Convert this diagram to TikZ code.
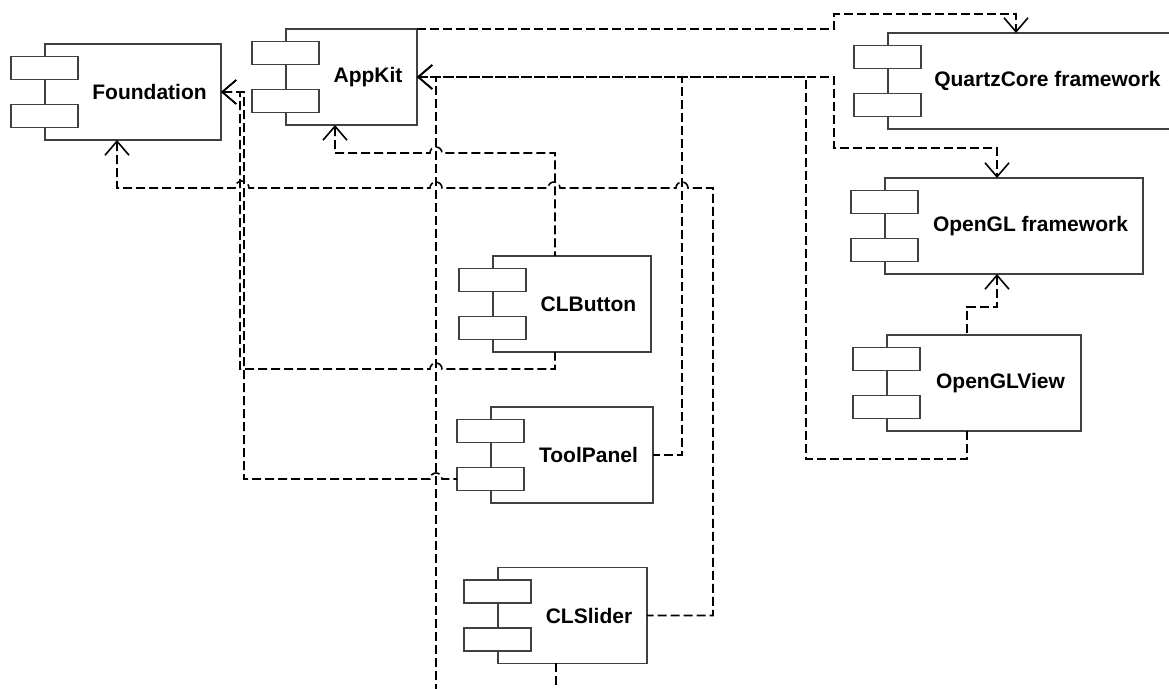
\documentclass[tikz,border=0pt]{standalone}
\usepackage{fontspec}
\setmainfont{Liberation Sans}
\usetikzlibrary{arrows.meta,calc}
\definecolor{compInk}{HTML}{000000}
\definecolor{compEdge}{HTML}{404040}
\definecolor{compDash}{HTML}{000000}
\tikzset{
  every picture/.style={font=\fontsize{10.5}{12}\selectfont\bfseries, text=compInk},
  comp box/.style={draw=compEdge, line width=0.6pt, fill=white,
    minimum height=48pt, inner sep=0pt, outer sep=0pt},
  comp part/.style={draw=compEdge, line width=0.6pt, fill=white},
  comp text/.style={inner sep=0pt, anchor=center},
  comp dep/.style={draw=compDash, line width=0.8pt, dash pattern=on 4.5pt off 2pt},
  comp tip/.style={-{Straight Barb[length=7pt,width=12pt]}},
  comp back/.style={{Straight Barb[length=7pt,width=12pt]}-}
}
\newcommand{\compnode}[4]{%
  \node[comp box, minimum width=#3] (#1) at #2 {};
  \draw[comp part] ($(#1.west)+(-34,-35.5)$) rectangle ++(67,23);
  \draw[comp part] ($(#1.west)+(-34,12.5)$) rectangle ++(67,23);
  \node[comp text] (#1-text) at ($(#1.center)+(16.5,0)$) {#4};
}

\begin{document}
\begin{tikzpicture}[x=0.5pt,y=-0.5pt]
  \useasboundingbox (0,0) rectangle (1169,689);
  \clip (0,0) rectangle (1169,689);
  \compnode{found}{(133,92)}{88pt}{Foundation}
  \compnode{appkit}{(351.5,77)}{65.5pt}{AppKit}
  \compnode{quartz}{(1031,81)}{143pt}{QuartzCore framework}
  \compnode{opengl}{(1014,226)}{129pt}{OpenGL framework}
  \compnode{glview}{(984,383)}{97pt}{OpenGLView}
  \compnode{clbutton}{(572,304)}{79pt}{CLButton}
  \compnode{toolpanel}{(572,455)}{81pt}{ToolPanel}
  \compnode{clslider}{(572.5,615.5)}{74.5pt}{CLSlider}
  \coordinate (below1) at (436,720);
  \coordinate (below2) at ($(clslider.south)+(-16.5,60)$);

  \draw[comp dep,comp tip] (appkit.north east) -| (834,14) -| ($(quartz.north)+(-15,0)$);
  \draw[comp dep,comp tip] (appkit.east) -| (834,148) -| ($(opengl.north)+(-17,0)$);
  \draw[comp dep,comp back] (appkit.east) -| (806,459) -| ($(glview.south)+(-17,0)$);
  \draw[comp dep,comp back] (appkit.east) -| (682,455) -- (toolpanel.east);
  \draw[comp dep,comp back] (appkit.east) -| (below1);
  \draw[comp dep,comp back] ($(opengl.south)+(-17,0)$) |- (967,307) -- ($(glview.north)+(-17,0)$);
  \draw[comp dep,comp back] ($(appkit.south)+(-16.5,0)$) |- (430,153)
    arc[start angle=180,end angle=360,radius=6] -| ($(clbutton.north)+(-17,0)$);
  \draw[comp dep,comp back] (found.east) -| (240,369) -- (430,369)
    arc[start angle=180,end angle=360,radius=6] -| ($(clbutton.south)+(-17,0)$);
  \draw[comp dep,comp back] (found.east) -| (244,479) -- (430,479)
    arc[start angle=180,end angle=360,radius=6] -- ($(toolpanel.west)+(-34,24)$);
  \draw[comp dep,comp back] ($(found.south)+(-16,0)$) |- (235,188)
    arc[start angle=180,end angle=360,radius=7] -- (430,188)
    arc[start angle=180,end angle=360,radius=6] -- (548,188)
    arc[start angle=180,end angle=360,radius=6] -- (676,188)
    arc[start angle=180,end angle=360,radius=6] -| (713,615.5) -- (clslider.east);
  \draw[comp dep] ($(clslider.south)+(-16.5,0)$) -- (below2);
\end{tikzpicture}
\end{document}
